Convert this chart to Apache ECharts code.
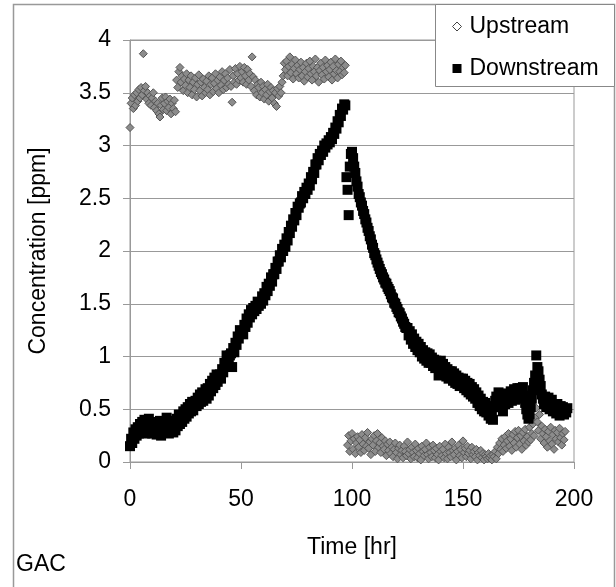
<!DOCTYPE html>
<html>
<head>
<meta charset="utf-8">
<script src="https://cdn.jsdelivr.net/npm/echarts@6/dist/echarts.min.js"></script>
<style>
html,body{margin:0;padding:0;background:#fff;}
#chart{width:616px;height:587px;}
</style>
</head>
<body>
<div id="chart"></div>
<script>
// ---- Data ----
var seriesNames = ['Upstream', 'Downstream'];
var xTicks = [0, 50, 100, 150, 200];
var yTicks = [0, 0.5, 1, 1.5, 2, 2.5, 3, 3.5, 4];

// Upstream, first run: sampled every 0.5 hr starting at 0 hr (ppm)
var upstreamRun1Start = 0;
var upstreamRun1Step = 0.5;
var upstreamRun1 = [
  3.17, 3.40, 3.45, 3.35, 3.48, 3.38, 3.50, 3.42, 3.53, 3.45,
  3.55, 3.48, 3.87, 3.52, 3.56, 3.44, 3.50, 3.40, 3.47, 3.38,
  3.45, 3.50, 3.36, 3.42, 3.33, 3.40, 3.30, 3.27, 3.38, 3.45,
  3.34, 3.40, 3.46, 3.33, 3.42, 3.36, 3.44, 3.30, 3.40, 3.35,
  3.43, 3.32, 3.62, 3.55, 3.70, 3.74, 3.60, 3.66, 3.52, 3.63,
  3.57, 3.68, 3.50, 3.62, 3.55, 3.66, 3.48, 3.60, 3.53, 3.64,
  3.46, 3.58, 3.67, 3.52, 3.60, 3.47, 3.63, 3.55, 3.50, 3.61,
  3.53, 3.66, 3.48, 3.58, 3.64, 3.51, 3.59, 3.68, 3.54, 3.62,
  3.50, 3.65, 3.57, 3.70, 3.53, 3.62, 3.68, 3.55, 3.64, 3.58,
  3.72, 3.56, 3.41, 3.66, 3.60, 3.73, 3.58, 3.68, 3.62, 3.75,
  3.64, 3.70, 3.60, 3.74, 3.66, 3.58, 3.72, 3.62, 3.68, 3.56,
  3.84, 3.65, 3.52, 3.62, 3.48, 3.58, 3.55, 3.46, 3.60, 3.50,
  3.56, 3.44, 3.53, 3.48, 3.58, 3.42, 3.51, 3.55, 3.45, 3.52,
  3.40, 3.50, 3.37, 3.54, 3.47, 3.56, 3.50, 3.60, 3.66, 3.78,
  3.72, 3.80, 3.66, 3.75, 3.84, 3.69, 3.77, 3.63, 3.73, 3.81,
  3.68, 3.76, 3.64, 3.72, 3.79, 3.66, 3.74, 3.61, 3.70, 3.78,
  3.65, 3.73, 3.80, 3.68, 3.62, 3.75, 3.70, 3.82, 3.66, 3.74,
  3.60, 3.71, 3.78, 3.67, 3.74, 3.63, 3.81, 3.70, 3.76, 3.65,
  3.72, 3.79, 3.62, 3.75, 3.68, 3.82, 3.71, 3.64, 3.77, 3.70,
  3.80, 3.67, 3.74, 3.69, 3.76
];

// Upstream, second run: sampled every 0.5 hr starting at 98 hr (ppm)
var upstreamRun2Start = 98;
var upstreamRun2Step = 0.5;
var upstreamRun2 = [
  0.16, 0.25, 0.10, 0.20, 0.27, 0.12, 0.22, 0.08, 0.18, 0.24,
  0.14, 0.21, 0.09, 0.26, 0.17, 0.11, 0.23, 0.15, 0.28, 0.13,
  0.19, 0.07, 0.22, 0.16, 0.25, 0.10, 0.20, 0.27, 0.14, 0.18,
  0.09, 0.23, 0.15, 0.12, 0.20, 0.06, 0.17, 0.11, 0.19, 0.08,
  0.14, 0.05, 0.12, 0.18, 0.09, 0.03, 0.13, 0.16, 0.07, 0.11,
  0.04, 0.15, 0.10, 0.06, 0.19, 0.08, 0.12, 0.03, 0.14, 0.09,
  0.05, 0.17, 0.11, 0.04, 0.13, 0.08, 0.02, 0.15, 0.10, 0.06,
  0.12, 0.18, 0.07, 0.03, 0.14, 0.09, 0.05, 0.16, 0.11, 0.04,
  0.13, 0.07, 0.02, 0.15, 0.10, 0.06, 0.12, 0.04, 0.17, 0.08,
  0.03, 0.14, 0.09, 0.05, 0.19, 0.11, 0.07, 0.13, 0.02, 0.10,
  0.16, 0.06, 0.12, 0.04, 0.20, 0.09, 0.13, 0.05, 0.15, 0.08,
  0.11, 0.03, 0.14, 0.07, 0.10, 0.05, 0.12, 0.02, 0.09, 0.06,
  0.11, 0.04, 0.08, 0.02, 0.07, 0.05, 0.03, 0.08, 0.04, 0.06,
  0.02, 0.07, 0.05, 0.10, 0.03, 0.14, 0.08, 0.18, 0.12, 0.22,
  0.10, 0.16, 0.24, 0.13, 0.20, 0.27, 0.15, 0.22, 0.11, 0.26,
  0.18, 0.29, 0.14, 0.23, 0.30, 0.17, 0.25, 0.12, 0.28, 0.20,
  0.31, 0.16, 0.24, 0.19, 0.33, 0.21, 0.27, 0.36, 0.25, 0.42,
  0.51, 0.38, 0.30, 0.45, 0.22, 0.34, 0.27, 0.18, 0.31, 0.24,
  0.14, 0.29, 0.20, 0.33, 0.17, 0.26, 0.12, 0.30, 0.22, 0.28,
  0.19, 0.32, 0.23, 0.16, 0.27, 0.21, 0.29
];

// Downstream: sampled every 0.5 hr starting at 0 hr (ppm)
var downstreamStart = 0;
var downstreamStep = 0.5;
var downstream = [
  0.15, 0.22, 0.18, 0.28, 0.22, 0.31, 0.25, 0.33, 0.27, 0.36,
  0.29, 0.38, 0.31, 0.40, 0.27, 0.36, 0.32, 0.41, 0.28, 0.35,
  0.27, 0.38, 0.30, 0.36, 0.26, 0.34, 0.29, 0.39, 0.25, 0.33,
  0.28, 0.37, 0.30, 0.42, 0.34, 0.27, 0.39, 0.31, 0.36, 0.28,
  0.36, 0.30, 0.41, 0.34, 0.45, 0.36, 0.44, 0.38, 0.48, 0.41,
  0.50, 0.43, 0.52, 0.46, 0.55, 0.48, 0.57, 0.49, 0.54, 0.58,
  0.53, 0.61, 0.55, 0.64, 0.57, 0.66, 0.58, 0.63, 0.69, 0.60,
  0.70, 0.63, 0.74, 0.67, 0.77, 0.70, 0.80, 0.73, 0.83, 0.76,
  0.80, 0.83, 0.79, 0.88, 0.85, 0.94, 0.91, 1.01, 0.99, 0.98,
  1.01, 1.03, 0.90, 1.08, 1.04, 1.13, 1.11, 1.19, 1.17, 1.25,
  1.22, 1.24, 1.21, 1.30, 1.28, 1.36, 1.32, 1.40, 1.37, 1.44,
  1.40, 1.46, 1.43, 1.48, 1.45, 1.52, 1.48, 1.51, 1.50, 1.57,
  1.53, 1.60, 1.58, 1.66, 1.62, 1.69, 1.67, 1.75, 1.71, 1.78,
  1.78, 1.84, 1.83, 1.90, 1.90, 1.96, 1.94, 2.02, 2.00, 2.06,
  2.04, 2.12, 2.10, 2.18, 2.17, 2.24, 2.23, 2.30, 2.29, 2.36,
  2.34, 2.42, 2.41, 2.45, 2.46, 2.52, 2.50, 2.56, 2.54, 2.60,
  2.58, 2.64, 2.62, 2.70, 2.68, 2.75, 2.74, 2.82, 2.82, 2.88,
  2.86, 2.92, 2.91, 2.95, 2.94, 3.00, 2.98, 3.02, 3.01, 3.05,
  3.03, 3.08, 3.06, 3.12, 3.11, 3.17, 3.16, 3.23, 3.22, 3.29,
  3.28, 3.35, 3.34, 3.39, 3.38, 2.70, 2.58, 2.34, 2.80, 2.92,
  2.94, 2.88, 2.80, 2.74, 2.66, 2.61, 2.54, 2.51, 2.46, 2.43,
  2.38, 2.35, 2.30, 2.27, 2.22, 2.19, 2.14, 2.11, 2.06, 2.03,
  1.98, 1.96, 1.92, 1.89, 1.86, 1.83, 1.80, 1.78, 1.75, 1.73,
  1.70, 1.69, 1.66, 1.64, 1.62, 1.59, 1.56, 1.55, 1.51, 1.50,
  1.47, 1.45, 1.42, 1.41, 1.38, 1.36, 1.33, 1.31, 1.28, 1.27,
  1.27, 1.20, 1.24, 1.16, 1.21, 1.12, 1.17, 1.09, 1.14, 1.06,
  1.12, 1.04, 1.09, 1.00, 1.06, 0.98, 1.04, 0.96, 1.03, 0.94,
  1.02, 0.94, 0.99, 0.91, 0.97, 0.89, 0.96, 0.91, 0.82, 0.94,
  0.96, 0.86, 0.93, 0.83, 0.90, 0.81, 0.88, 0.79, 0.86, 0.80,
  0.86, 0.77, 0.84, 0.75, 0.82, 0.74, 0.80, 0.72, 0.79, 0.73,
  0.79, 0.70, 0.77, 0.68, 0.75, 0.66, 0.74, 0.64, 0.71, 0.62,
  0.69, 0.60, 0.66, 0.56, 0.63, 0.53, 0.60, 0.50, 0.57, 0.48,
  0.56, 0.47, 0.53, 0.44, 0.50, 0.41, 0.45, 0.40, 0.52, 0.58,
  0.62, 0.55, 0.66, 0.52, 0.64, 0.57, 0.48, 0.63, 0.55, 0.60,
  0.65, 0.56, 0.62, 0.67, 0.58, 0.64, 0.69, 0.59, 0.66, 0.70,
  0.62, 0.70, 0.65, 0.60, 0.71, 0.63, 0.56, 0.50, 0.45, 0.41,
  0.45, 0.52, 0.60, 0.68, 0.75, 0.82, 1.01, 0.90, 0.86, 0.78,
  0.72, 0.64, 0.60, 0.55, 0.62, 0.52, 0.58, 0.61, 0.50, 0.56,
  0.59, 0.48, 0.55, 0.52, 0.46, 0.55, 0.50, 0.44, 0.53, 0.48,
  0.52, 0.45, 0.50, 0.47, 0.51
];

// ---- Build library data (time, value) pairs ----
function toPairs(start, step, values) {
  var out = [];
  for (var i = 0; i < values.length; i++) out.push([start + i * step, values[i]]);
  return out;
}
var upstreamData = toPairs(upstreamRun1Start, upstreamRun1Step, upstreamRun1)
  .concat(toPairs(upstreamRun2Start, upstreamRun2Step, upstreamRun2));
var downstreamData = toPairs(downstreamStart, downstreamStep, downstream);

var FONT = '"Liberation Sans", Arial, sans-serif';
var FS = 23;

var chart = echarts.init(document.getElementById('chart'), null, {renderer: 'canvas'});
chart.setOption({
  backgroundColor: '#ffffff',
  animation: false,
  textStyle: {fontFamily: FONT, color: '#000'},
  grid: {
    left: 130, top: 40, width: 444, height: 422,
    show: true, borderColor: '#999', borderWidth: 1, backgroundColor: 'transparent'
  },
  xAxis: {
    type: 'value', min: xTicks[0], max: xTicks[xTicks.length - 1], interval: 50,
    name: 'Time [hr]', nameLocation: 'middle', nameGap: 74,
    nameTextStyle: {fontFamily: FONT, fontSize: FS, color: '#000'},
    axisLine: {onZero: false, lineStyle: {color: '#999', width: 1}},
    axisTick: {show: true, inside: false, length: 7, lineStyle: {color: '#999'}},
    axisLabel: {margin: 26, fontFamily: FONT, fontSize: FS, color: '#000'},
    splitLine: {show: false}
  },
  yAxis: {
    type: 'value', min: yTicks[0], max: yTicks[yTicks.length - 1], interval: 0.5,
    name: 'Concentration [ppm]', nameLocation: 'middle', nameGap: 80,
    nameTextStyle: {fontFamily: FONT, fontSize: FS, color: '#000'},
    axisLine: {show: true, lineStyle: {color: '#999', width: 1}},
    axisTick: {show: true, inside: false, length: 7, lineStyle: {color: '#999'}},
    axisLabel: {margin: 19, fontFamily: FONT, fontSize: FS, color: '#000'},
    splitLine: {show: true, lineStyle: {color: '#999', width: 1}}
  },
  legend: {
    orient: 'vertical', left: 447, top: 10,
    itemWidth: 9, itemHeight: 9, itemGap: 19,
    textStyle: {fontFamily: FONT, fontSize: FS, color: '#000', padding: [0, 0, 0, 3]},
    data: [
      {name: seriesNames[0], icon: 'diamond', itemStyle: {color: '#ffffff', borderColor: '#444', borderWidth: 1}},
      {name: seriesNames[1], icon: 'rect', itemStyle: {color: '#000', borderWidth: 0}}
    ],
    z: 10
  },
  graphic: [
    {type: 'rect', z: -10, silent: true,
     shape: {x: 13.5, y: 4.5, width: 601, height: 620},
     style: {fill: 'none', stroke: '#999', lineWidth: 1.5}},
    {type: 'rect', z: 5, silent: true,
     shape: {x: 435.5, y: 4.5, width: 179, height: 82},
     style: {fill: '#fff', stroke: '#888', lineWidth: 1}},
    {type: 'text', left: 16, top: 553, z: 5, silent: true,
     style: {text: 'GAC', fontFamily: FONT, fontSize: FS, fill: '#000'}}
  ],
  series: [
    {
      name: seriesNames[0], type: 'scatter', data: upstreamData,
      symbol: 'diamond', symbolSize: 8,
      itemStyle: {color: '#8c8c8c', borderColor: '#555', borderWidth: 1, opacity: 1},
      z: 2
    },
    {
      name: seriesNames[1], type: 'scatter', data: downstreamData,
      symbol: 'rect', symbolSize: 10,
      itemStyle: {color: '#000', opacity: 1},
      z: 3
    }
  ]
});
</script>
</body>
</html>
